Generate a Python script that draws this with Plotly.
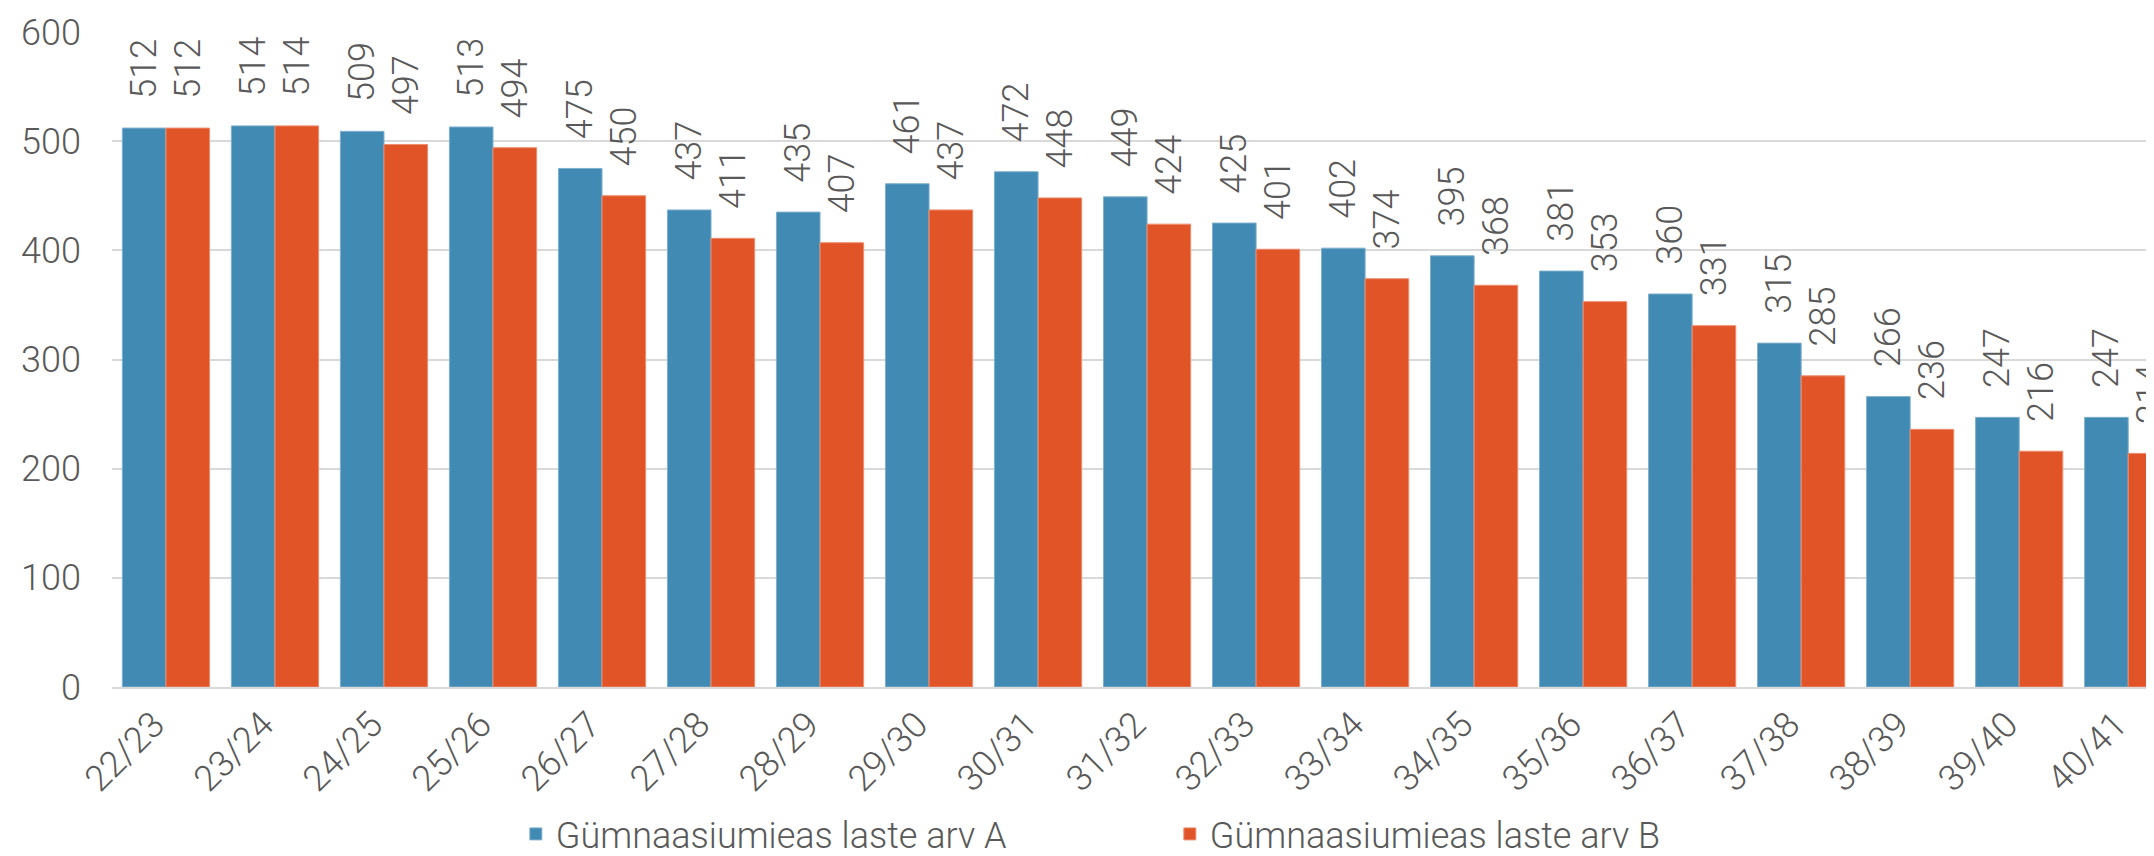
import plotly.graph_objects as go

# õppeaastad
aastad = ["22/23", "23/24", "24/25", "25/26", "26/27", "27/28", "28/29", "29/30",
          "30/31", "31/32", "32/33", "33/34", "34/35", "35/36", "36/37", "37/38",
          "38/39", "39/40", "40/41"]

laste_arv_a = [512, 514, 509, 513, 475, 437, 435, 461, 472, 449, 425, 402,
               395, 381, 360, 315, 266, 247, 247]
laste_arv_b = [512, 514, 497, 494, 450, 411, 407, 437, 448, 424, 401, 374,
               368, 353, 331, 285, 236, 216, 214]

nimi_a = "Gümnaasiumieas laste arv A"
nimi_b = "Gümnaasiumieas laste arv B"

FONT = "Roboto"
HALL = "#595959"
SUURUS = 36

fig = go.Figure()
fig.add_trace(go.Bar(
    x=aastad, y=laste_arv_a, name=nimi_a,
    marker=dict(color="#418AB3", line=dict(color="#7FB0CE", width=1)),
    text=laste_arv_a, texttemplate="   %{text}", textposition="outside",
    textangle=-90, constraintext="none",
    textfont=dict(family=FONT, size=SUURUS, color=HALL, weight=300),
    cliponaxis=False,
))
fig.add_trace(go.Bar(
    x=aastad, y=laste_arv_b, name=nimi_b,
    marker=dict(color="#E05428", line=dict(color="#EE8E6E", width=1)),
    text=laste_arv_b, texttemplate="   %{text}", textposition="outside",
    textangle=-90, constraintext="none",
    textfont=dict(family=FONT, size=SUURUS, color=HALL, weight=300),
    cliponaxis=False,
))

fig.update_layout(
    width=2154, height=856,
    barmode="group", bargap=0.2, bargroupgap=0,
    plot_bgcolor="white", paper_bgcolor="white",
    font=dict(family=FONT, size=SUURUS, color=HALL, weight=300),
    margin=dict(l=104, r=0, t=24, b=170),
    xaxis=dict(
        range=[-0.495, 18.31], tickangle=-45, showgrid=False,
        showline=True, linecolor="#d9d9d9", linewidth=2,
        ticklabelshift=-12,
        tickfont=dict(family=FONT, size=SUURUS, color=HALL, weight=300),
    ),
    yaxis=dict(
        range=[0, 600], dtick=100, showgrid=True, gridcolor="#d9d9d9",
        gridwidth=2, zeroline=False, showline=False, ticks="",
        ticklabelstandoff=30,
        tickfont=dict(family=FONT, size=SUURUS, color=HALL, weight=300),
    ),
    legend=dict(
        orientation="h", x=0.197, xanchor="left", y=-0.225, yanchor="middle",
        entrywidth=609,
        font=dict(family=FONT, size=SUURUS, color=HALL, weight=300),
    ),
    showlegend=True,
)

fig.write_html("out.html")
